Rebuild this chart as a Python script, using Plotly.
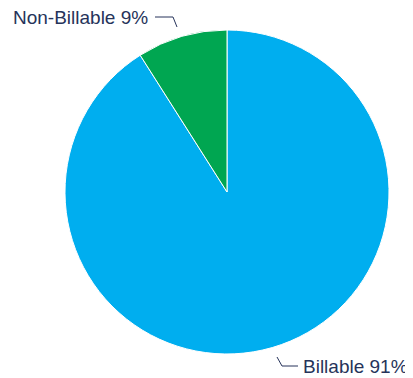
import plotly.graph_objects as go

labels = ["Billable", "Non-Billable"]
values = [91, 9]
colors = ["#00AEEF", "#00A651"]

# The page body has an 8px margin; work in page pixels and offset.
OFF = 8
PAGE_W, PAGE_H = 413, 378
W, H = PAGE_W - OFF, PAGE_H - OFF

def px(x):
    return (x - OFF) / W

def py(y):
    return 1 - (y - OFF) / H

fig = go.Figure(go.Pie(
    labels=labels, values=values, sort=False, direction="clockwise",
    rotation=0,
    marker=dict(colors=colors, line=dict(color="white", width=1)),
    textinfo="none", hoverinfo="label+percent",
    domain=dict(x=[px(65), px(389)], y=[py(354), py(30)]),
    showlegend=False,
))

text_font = dict(family="Liberation Sans, Arial, sans-serif", size=19, color="#26335a")
line_style = dict(color="#26335a", width=1)

annotations = [
    dict(text=f"{labels[1]} {values[1]}%", x=px(150), y=py(18), xref="paper", yref="paper",
         xanchor="right", yanchor="middle", showarrow=False, font=text_font),
    dict(text=f"{labels[0]} {values[0]}%", x=px(301), y=py(366), xref="paper", yref="paper",
         xanchor="left", yanchor="middle", showarrow=False, font=text_font),
]

shapes = [
    dict(type="path", xref="paper", yref="paper",
         path=f"M {px(155)} {py(17)} L {px(173)} {py(17)} L {px(177)} {py(27)}", line=line_style),
    dict(type="path", xref="paper", yref="paper",
         path=f"M {px(277)} {py(357)} L {px(282)} {py(366)} L {px(298)} {py(366)}", line=line_style),
]

fig.update_layout(
    width=W, height=H, margin=dict(l=0, r=0, t=0, b=0),
    paper_bgcolor="white", plot_bgcolor="white",
    annotations=annotations, shapes=shapes,
)

fig.write_html("out.html")
